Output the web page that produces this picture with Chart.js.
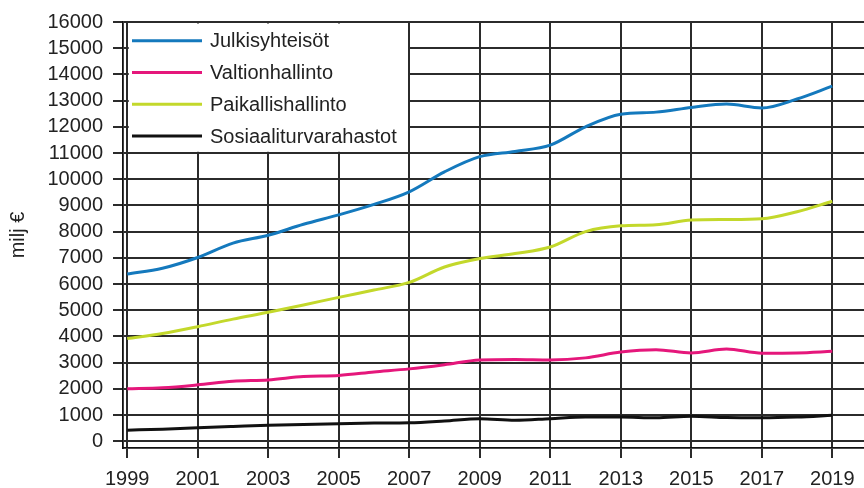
<!DOCTYPE html>
<html>
<head>
<meta charset="utf-8">
<script src="https://cdn.jsdelivr.net/npm/chart.js@4/dist/chart.umd.min.js"></script>
<style>
  html, body { margin: 0; padding: 0; background: #fff; }
  #wrap { width: 864px; height: 488px; position: relative; }
</style>
</head>
<body>
<div id="wrap"><canvas id="c" width="864" height="488"></canvas></div>
<script>
// ---- data ----
const years = [1999,2000,2001,2002,2003,2004,2005,2006,2007,2008,2009,2010,2011,2012,2013,2014,2015,2016,2017,2018,2019];
const seriesNames = ['Julkisyhteisöt', 'Valtionhallinto', 'Paikallishallinto', 'Sosiaaliturvarahastot'];
const julkisyhteisot = [6380,6600,7010,7560,7860,8280,8640,9040,9520,10280,10860,11060,11300,12000,12480,12560,12740,12870,12720,13060,13550];
const valtionhallinto = [2000,2040,2150,2290,2340,2470,2510,2640,2760,2920,3100,3120,3100,3180,3400,3490,3370,3520,3360,3370,3430];
const paikallishallinto = [3920,4110,4370,4660,4920,5200,5490,5770,6060,6650,6970,7160,7410,8000,8220,8260,8440,8460,8490,8760,9160];
const sosiaaliturvarahastot = [420,460,510,560,610,640,670,690,700,770,860,800,860,920,920,890,950,900,890,920,990];
const xTickYears = [1999,2001,2003,2005,2007,2009,2011,2013,2015,2017,2019];
const yTickValues = [0,1000,2000,3000,4000,5000,6000,7000,8000,9000,10000,11000,12000,13000,14000,15000,16000];
const yTitle = 'milj €';

const colors = ['#1479bd', '#e5177b', '#c3d82b', '#111111'];
const allSeries = [julkisyhteisot, valtionhallinto, paikallishallinto, sosiaaliturvarahastot];

const datasets = allSeries.map((vals, i) => ({
  label: seriesNames[i],
  data: years.map((yr, j) => ({ x: yr, y: vals[j] })),
  borderColor: colors[i],
  backgroundColor: colors[i],
  borderWidth: 3,
  pointRadius: 0,
  tension: 0.4,
  cubicInterpolationMode: 'monotone',
  fill: false
}));

const boxLegend = {
  id: 'boxLegend',
  beforeDatasetsDraw(chart) {
    const { ctx, chartArea, scales } = chart;
    const left = scales.x.getPixelForValue(1999) + 1.5;
    const top = chartArea.top + 1.5;
    const right = 409;
    const bottom = scales.y.getPixelForValue(11000) - 1.2;
    ctx.save();
    ctx.fillStyle = '#ffffff';
    ctx.fillRect(left, top, right - left, bottom - top);
    ctx.strokeStyle = '#2b2b2b';
    ctx.lineWidth = 2;
    ctx.beginPath();
    ctx.moveTo(right, chartArea.top);
    ctx.lineTo(right, bottom + 1);
    ctx.stroke();
    ctx.font = '20px "Liberation Sans", Arial, sans-serif';
    ctx.textBaseline = 'middle';
    ctx.textAlign = 'left';
    chart.data.datasets.forEach((ds, i) => {
      const yy = 40.7 + i * 31.8;
      ctx.strokeStyle = ds.borderColor;
      ctx.lineWidth = 3;
      ctx.beginPath();
      ctx.moveTo(132, yy);
      ctx.lineTo(202, yy);
      ctx.stroke();
      ctx.fillStyle = '#222';
      ctx.fillText(ds.label, 210, yy + 1);
    });
    ctx.restore();
  }
};

const tickFont = { family: '"Liberation Sans", Arial, sans-serif', size: 20 };

new Chart(document.getElementById('c'), {
  type: 'line',
  data: { datasets },
  plugins: [boxLegend],
  options: {
    responsive: false,
    animation: false,
    layout: { padding: { top: 20, right: 0, left: 0, bottom: 0 } },
    plugins: { legend: { display: false }, tooltip: { enabled: false } },
    scales: {
      x: {
        type: 'linear',
        min: 1998.88,
        max: 2019.9,
        afterBuildTicks(scale) { scale.ticks = xTickYears.map(v => ({ value: v })); },
        afterFit(scale) { scale.height = 40; },
        ticks: {
          font: tickFont,
          color: '#222',
          padding: 9,
          maxRotation: 0,
          autoSkip: false,
          callback: v => String(v)
        },
        grid: { color: '#2b2b2b', lineWidth: 2, tickLength: 10, drawTicks: true },
        border: { display: true, color: '#111', width: 1.8 }
      },
      y: {
        min: -260,
        max: 16000,
        afterBuildTicks(scale) { scale.ticks = yTickValues.map(v => ({ value: v })); },
        afterFit(scale) { scale.width = 123; },
        ticks: {
          font: tickFont,
          color: '#222',
          padding: 10,
          autoSkip: false,
          callback: v => String(v)
        },
        grid: { color: '#2b2b2b', lineWidth: 2, tickLength: 10, drawTicks: true },
        border: { display: true, color: '#111', width: 1.8 },
        title: {
          display: true,
          text: yTitle,
          color: '#222',
          font: { family: '"Liberation Sans", Arial, sans-serif', size: 20 },
          padding: { top: 6, bottom: 0 }
        }
      }
    }
  }
});
</script>
</body>
</html>
